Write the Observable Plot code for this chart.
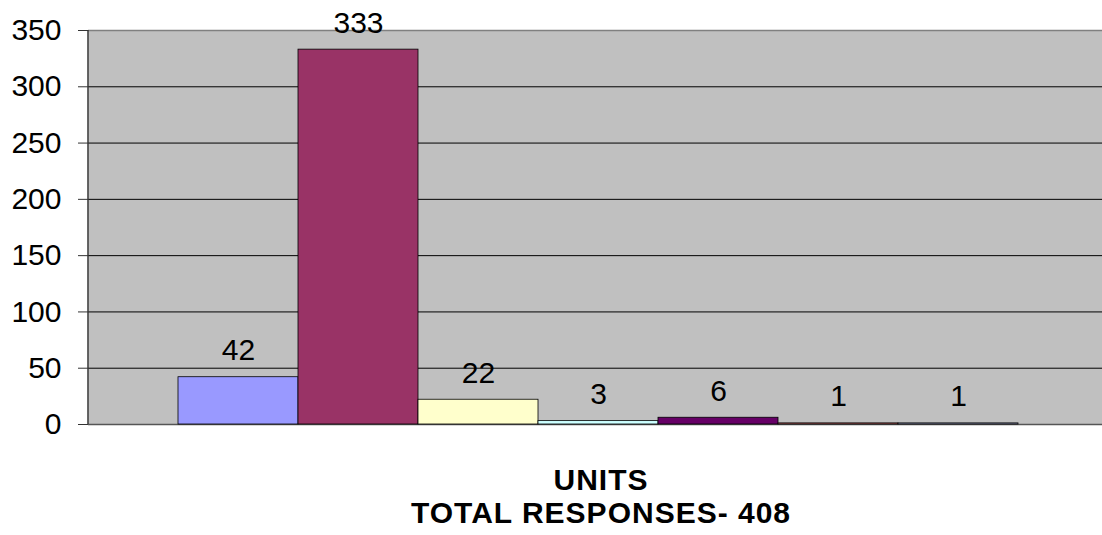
<!DOCTYPE html>
<html>
<head>
<meta charset="utf-8">
<script src="https://cdn.jsdelivr.net/npm/d3@7"></script>
<script src="https://cdn.jsdelivr.net/npm/@observablehq/plot@0.6"></script>
<style>
  body { margin: 0; background: #fff; font-family: "Liberation Sans", Arial, sans-serif; }
  #chart svg { display: block; }
  .title { padding-left: 100px; width: 1002px; text-align: center; font-weight: bold; font-size: 30px; line-height: 33px; letter-spacing: 1px; color: #000; margin-top: 23px; }
</style>
</head>
<body>
<div id="chart"></div>
<div class="title">UNITS<br>TOTAL RESPONSES- 408</div>
<script>
const series = ["S1", "S2", "S3", "S4", "S5", "S6", "S7"];
const values = [42, 333, 22, 3, 6, 1, 1];
const colors = ["#9999FF", "#993366", "#FFFFCC", "#CCFFFF", "#660066", "#FF8080", "#C0C8F4"];
const yTicks = [0, 50, 100, 150, 200, 250, 300, 350];
const gridTicks = [50, 100, 150, 200, 250, 300];

const data = series.map((s, i) => ({ series: s, value: values[i], color: colors[i] }));

const chart = Plot.plot({
  width: 1102,
  height: 440,
  marginLeft: 88,
  marginRight: 0,
  marginTop: 30,
  marginBottom: 16,
  style: { fontFamily: "'Liberation Sans', Arial, sans-serif", fontSize: "30px", background: "#fff", overflow: "visible" },
  x: { domain: series, range: [178, 1018], padding: 0, axis: null },
  y: { domain: [0, 350], axis: null },
  marks: [
    Plot.frame({ fill: "#C0C0C0", stroke: null }),
    Plot.ruleY(gridTicks, { stroke: "#000", strokeWidth: 1 }),
    Plot.ruleY([350], { stroke: "#808080", strokeWidth: 1.5 }),
    Plot.ruleY([0], { stroke: "#555", strokeWidth: 1.5 }),
    Plot.barY(data, { x: "series", y: "value", fill: "color", stroke: "#000", strokeWidth: 0.8, inset: 0 }),
    Plot.axisY(yTicks, { anchor: "left", tickSize: 10, tickPadding: 17, stroke: "#333", fill: "#000", fontSize: 30, label: null }),
    Plot.text(data, { x: "series", y: "value", text: d => String(d.value), lineAnchor: "bottom", dy: -17, fill: "#000", fontSize: 30 })
  ]
});
document.getElementById("chart").append(chart);
// left axis line of the plot area
d3.select(chart).append("line")
  .attr("x1", 88).attr("x2", 88).attr("y1", 30).attr("y2", 424)
  .attr("stroke", "#333").attr("stroke-width", 1.5);
</script>
</body>
</html>
